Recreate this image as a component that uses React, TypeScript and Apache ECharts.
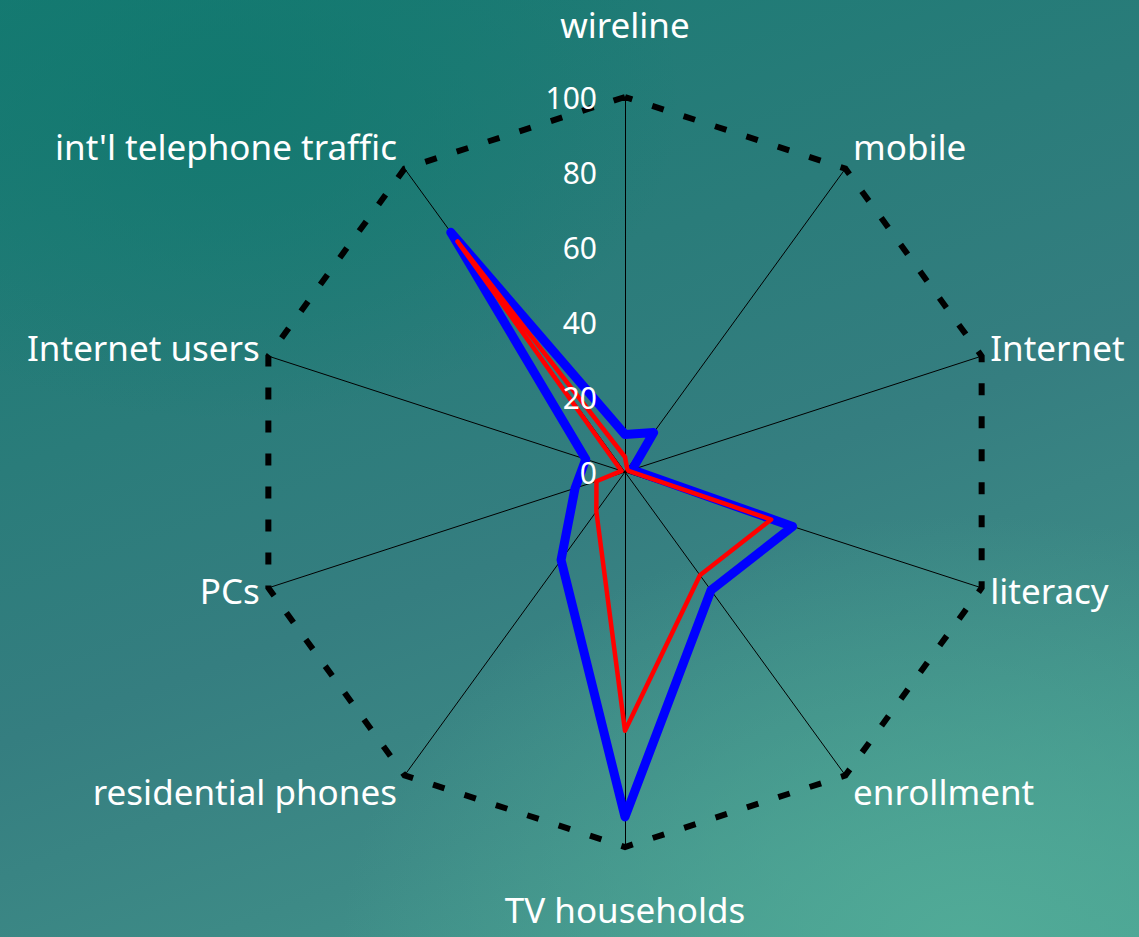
import React, { useEffect, useRef } from "react";
import * as echarts from "echarts";

// Indicators in clockwise order starting at the top
const indicatorNames = [
  "wireline",
  "mobile",
  "Internet",
  "literacy",
  "enrollment",
  "TV households",
  "residential phones",
  "PCs",
  "Internet users",
  "int'l telephone traffic",
];
const blueValues = [10, 13, 2, 47, 39, 92, 29, 14, 11, 79];
const redValues = [4, 1, 1, 41, 34, 69, 13, 8, 1, 76];
const axisMin = 0;
const axisMax = 100;
const tickCount = 5;

// name placement (layout only): gap from axis end and a vertical nudge style
const nameGaps = [55, 13, 9, 9, 13, 45, 13, 9, 9, 13];
const nameNudge = ["n0", "up12", "up6", "n0", "down6", "n0", "down6", "n0", "up6", "up12"];

export default function App() {
  const ref = useRef<HTMLDivElement>(null);

  useEffect(() => {
    if (!ref.current) return;
    const chart = echarts.init(ref.current, undefined, { renderer: "svg" });

    // ECharts lays radar indicators counter-clockwise; reorder to get clockwise
    const n = indicatorNames.length;
    const order = [0, ...Array.from({ length: n - 1 }, (_, i) => n - 1 - i)];

    const indicator = order.map((idx) => ({
      name: indicatorNames[idx],
      min: axisMin,
      max: axisMax,
      nameGap: nameGaps[idx],
    }));

    const labelIndicator = order.map((idx) => ({
      name: "",
      min: axisMin,
      max: axisMax,
      axisLabel: idx === 0 ? { show: true } : { show: false },
    }));

    const ringColors = Array.from({ length: tickCount + 1 }, (_, i) =>
      i === tickCount ? "#000000" : "rgba(0,0,0,0)"
    );

    const common = {
      center: [625, 472],
      radius: 375,
      startAngle: 90,
      splitNumber: tickCount,
      shape: "polygon",
    };

    const base = { color: "#ffffff", fontSize: 35, fontFamily: "Noto Sans" };

    chart.setOption({
      animation: false,
      backgroundColor: "transparent",
      radar: [
        {
          ...common,
          z: 1,
          indicator,
          axisName: {
            ...base,
            formatter: (name: string) => {
              const i = indicatorNames.indexOf(name);
              return `{${nameNudge[i]}|${name}}`;
            },
            rich: {
              n0: { ...base },
              up12: { ...base, padding: [0, 0, 24, 0] },
              up6: { ...base, padding: [0, 0, 12, 0] },
              down6: { ...base, padding: [12, 0, 0, 0] },
            },
          },
          axisLine: { show: true, lineStyle: { color: "#000000", width: 1 } },
          axisTick: { show: false },
          axisLabel: { show: false },
          splitLine: {
            show: true,
            lineStyle: { color: ringColors, width: 6, type: [12, 21] },
          },
          splitArea: { show: false },
        },
        {
          ...common,
          z: 10,
          indicator: labelIndicator,
          axisName: { show: false },
          axisLine: { show: false },
          axisTick: { show: false },
          axisLabel: {
            show: false,
            color: "#ffffff",
            fontSize: 30,
            fontFamily: "Noto Sans",
            margin: 28,
            showMinLabel: true,
            showMaxLabel: true,
          },
          splitLine: { show: false },
          splitArea: { show: false },
        },
      ],
      series: [
        {
          type: "radar",
          radarIndex: 0,
          z: 2,
          symbol: "none",
          silent: true,
          data: [
            {
              value: order.map((i) => blueValues[i]),
              name: "blue",
              lineStyle: { color: "#0000ff", width: 9, join: "round", cap: "round" },
            },
            {
              value: order.map((i) => redValues[i]),
              name: "red",
              lineStyle: { color: "#ff0000", width: 4.5, join: "round", cap: "round" },
            },
          ],
        },
      ],
    });
    return () => chart.dispose();
  }, []);

  return (
    <div
      style={{
        position: "fixed",
        left: 0,
        top: 0,
        width: 1139,
        height: 937,
        background:
          "radial-gradient(ellipse 55% 45% at 85% 100%, rgba(82,172,152,0.9) 0%, rgba(82,172,152,0) 100%), radial-gradient(ellipse 40% 35% at 20% 10%, rgba(16,120,110,0.8) 0%, rgba(16,120,110,0) 100%), linear-gradient(160deg, #167a72 0%, #2a7c7a 35%, #357e80 55%, #3d8a86 75%, #48a092 100%)",
      }}
    >
      <div ref={ref} style={{ width: 1139, height: 937 }} />
    </div>
  );
}
